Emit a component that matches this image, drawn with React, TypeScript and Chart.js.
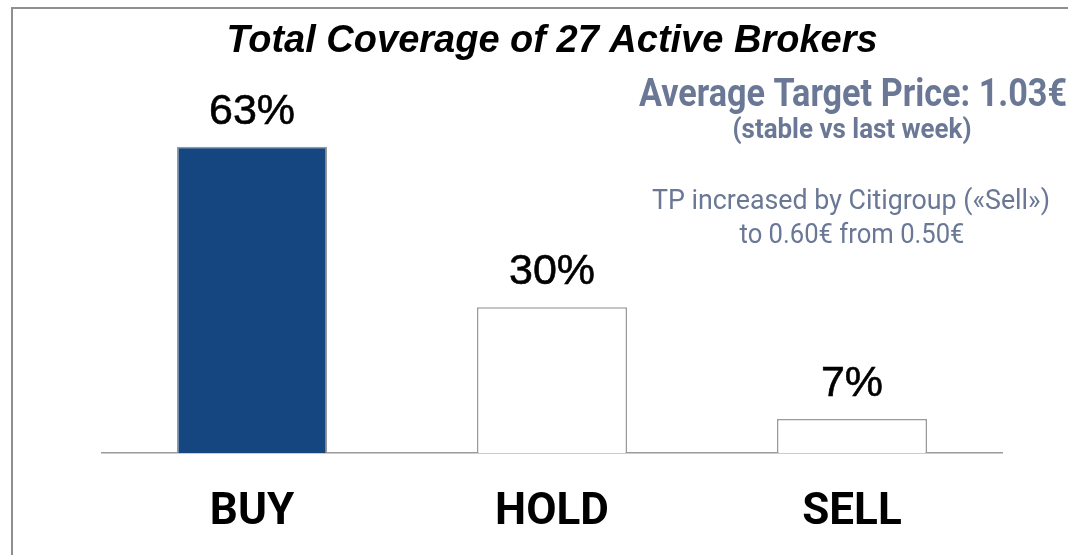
import React, { useEffect, useRef } from "react";
import { Chart, registerables } from "chart.js";

Chart.register(...registerables);

const categories = ["BUY", "HOLD", "SELL"];
const shares = [63, 30, 7];
const barFills = ["#15467F", "#FFFFFF", "#FFFFFF"];
const titleText = "Total Coverage of 27 Active Brokers";
const noteHeadline = "Average Target Price: 1.03€";
const noteSubline = "(stable vs last week)";
const noteDetail = ["TP increased by Citigroup («Sell»)", "to 0.60€ from 0.50€"];

const NOTE_COLOR = "#6A7896";
const NOTE_FONT = "Roboto, 'Liberation Sans', sans-serif";

const framePlugin = {
  id: "frame",
  beforeDraw(chart: any) {
    const ctx = chart.ctx;
    ctx.save();
    ctx.strokeStyle = "#8f8f8f";
    ctx.lineWidth = 2;
    ctx.beginPath();
    ctx.moveTo(12, chart.height);
    ctx.lineTo(12, 8);
    ctx.lineTo(chart.width, 8);
    ctx.stroke();
    ctx.restore();
  },
};

const valueLabelPlugin = {
  id: "valueLabels",
  afterDatasetsDraw(chart: any) {
    const ctx = chart.ctx;
    const meta = chart.getDatasetMeta(0);
    ctx.save();
    ctx.font = "43px 'Liberation Sans', Arial, sans-serif";
    ctx.fillStyle = "#000";
    ctx.strokeStyle = "#000";
    ctx.lineWidth = 0.6;
    ctx.textAlign = "center";
    ctx.textBaseline = "alphabetic";
    meta.data.forEach((el: any, i: number) => {
      const label = `${shares[i]}%`;
      ctx.fillText(label, el.x, el.y - 23);
      ctx.strokeText(label, el.x, el.y - 23);
    });
    ctx.restore();
  },
};

// draw text horizontally condensed to a given width (the reference uses a condensed face)
function drawCondensed(ctx: any, text: string, cx: number, baseline: number, font: string, width: number) {
  ctx.save();
  ctx.font = font;
  const w = ctx.measureText(text).width || width;
  const sx = Math.min(1, width / w);
  ctx.translate(cx, baseline);
  ctx.scale(sx, 1);
  ctx.textAlign = "center";
  ctx.textBaseline = "alphabetic";
  ctx.fillText(text, 0, 0);
  ctx.restore();
}

const notesPlugin = {
  id: "notes",
  afterDraw(chart: any) {
    const ctx = chart.ctx;
    const cx = chart.scales.x.getPixelForValue(2);
    ctx.save();
    ctx.fillStyle = NOTE_COLOR;
    drawCondensed(ctx, noteHeadline, cx + 1, 106, `bold 39px ${NOTE_FONT}`, 428);
    drawCondensed(ctx, noteSubline, cx, 138, `bold 28px ${NOTE_FONT}`, 239);
    drawCondensed(ctx, noteDetail[0], cx - 1, 209, `400 27px ${NOTE_FONT}`, 398);
    drawCondensed(ctx, noteDetail[1], cx, 243, `400 27px ${NOTE_FONT}`, 225);
    ctx.restore();
  },
};

export default function App() {
  const canvasRef = useRef<HTMLCanvasElement | null>(null);

  useEffect(() => {
    if (!canvasRef.current) return;
    const chart = new Chart(canvasRef.current, {
      type: "bar",
      data: {
        labels: categories,
        datasets: [
          {
            data: shares,
            backgroundColor: barFills,
            borderColor: "#9a9a9a",
            borderWidth: 1.5,
            borderSkipped: "start",
            barPercentage: 0.5,
            categoryPercentage: 1,
          },
        ],
      },
      options: {
        animation: false,
        responsive: false,
        devicePixelRatio: 1,
        layout: { padding: { left: 102, right: 66, top: 0, bottom: 0 } },
        plugins: {
          legend: { display: false },
          tooltip: { enabled: false },
          title: {
            display: true,
            text: titleText,
            color: "#000",
            font: {
              family: "'Liberation Sans', Arial, sans-serif",
              size: 38,
              weight: "bold",
              style: "italic",
              lineHeight: 1.2,
            },
            padding: { top: 18.5, bottom: 24.4 },
          },
        },
        scales: {
          x: {
            grid: { display: false, drawTicks: false },
            border: { display: true, color: "#9a9a9a", width: 1.5 },
            ticks: {
              color: "#000",
              font: { family: "Roboto, 'Liberation Sans', sans-serif", size: 44, weight: "bold", lineHeight: 1.2 },
              padding: 34,
            },
            afterFit: (scale: any) => {
              scale.height = 102;
            },
          },
          y: { display: false, min: 0, max: 75 },
        },
      },
      plugins: [framePlugin, valueLabelPlugin, notesPlugin],
    } as any);
    return () => chart.destroy();
  }, []);

  return (
    <div style={{ position: "absolute", left: 0, top: 0, width: 1068, height: 555, background: "#fff" }}>
      <canvas ref={canvasRef} width={1068} height={555} style={{ display: "block" }} />
    </div>
  );
}
